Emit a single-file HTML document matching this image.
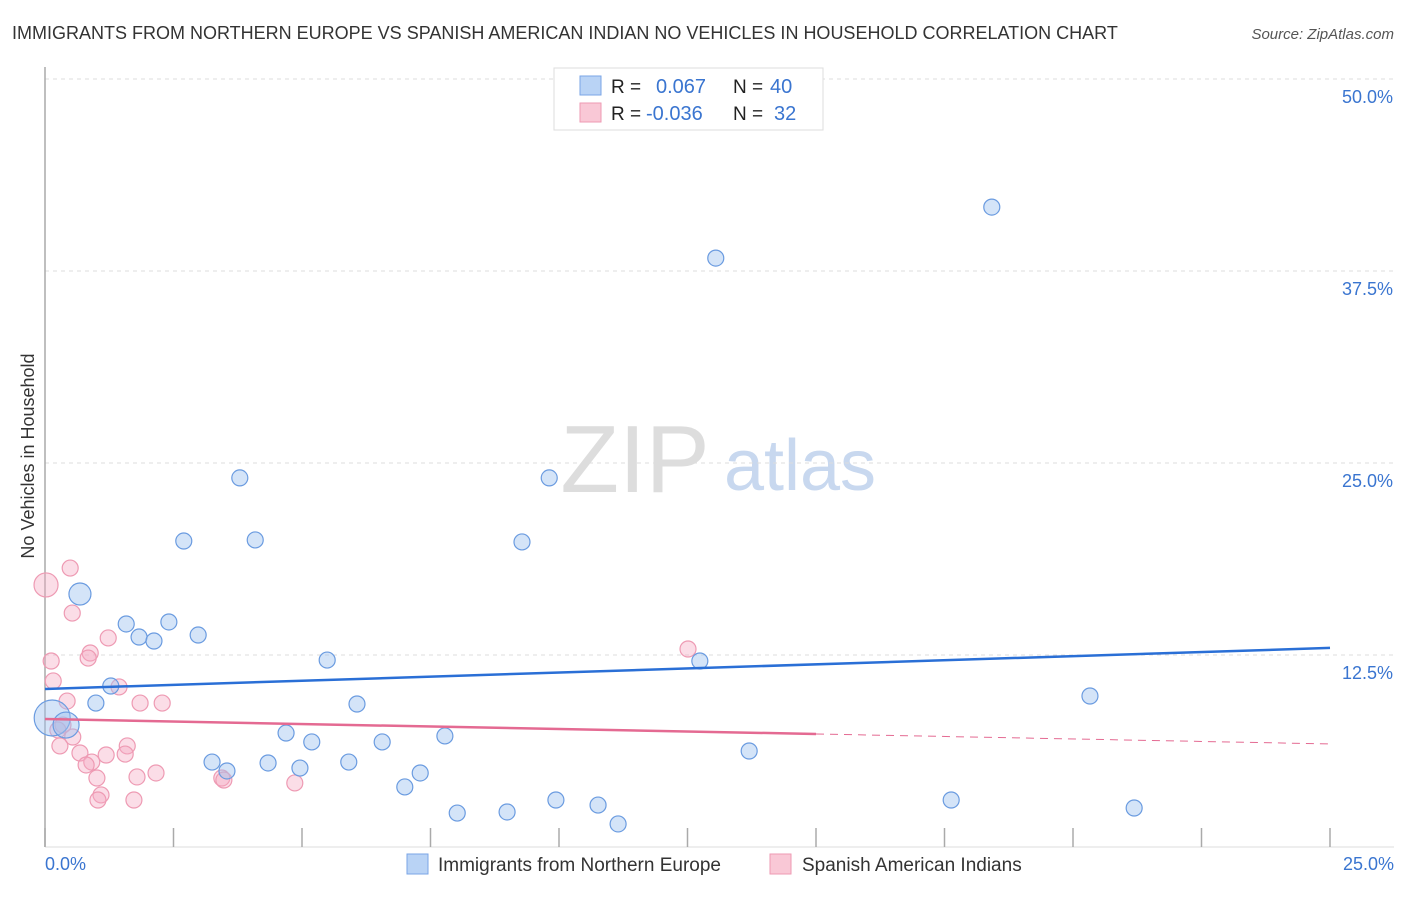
<!DOCTYPE html>
<html><head><meta charset="utf-8"><style>
body{margin:0;background:#fff;font-family:"Liberation Sans",sans-serif;}
svg text{font-family:"Liberation Sans",sans-serif;}
</style></head><body>
<svg width="1406" height="892">
<text x="12" y="39" font-size="18" fill="#333">IMMIGRANTS FROM NORTHERN EUROPE VS SPANISH AMERICAN INDIAN NO VEHICLES IN HOUSEHOLD CORRELATION CHART</text>
<text x="1394" y="39" font-size="15" fill="#555" font-style="italic" text-anchor="end">Source: ZipAtlas.com</text>
<text x="635" y="492" font-size="96" fill="#ddd" font-family="Liberation Serif" text-anchor="middle">ZIP</text>
<text x="800" y="490" font-size="72" fill="#c8d8ef" text-anchor="middle">atlas</text>
<g id="grid"></g><g id="axes"></g><g id="marks"></g>
<text transform="translate(34,456) rotate(-90)" font-size="18" fill="#333" text-anchor="middle">No Vehicles in Household</text>
<text x="45" y="870" font-size="18" fill="#3a75d0">0.0%</text>
<text x="1394" y="870" font-size="18" fill="#3a75d0" text-anchor="end">25.0%</text>
<g>
<rect x="554" y="68" width="269" height="62" fill="#fff" stroke="#ddd"/>
<rect x="580" y="76" width="21" height="19" fill="#b9d3f5" stroke="#7aa5e6"/>
<rect x="580" y="103" width="21" height="19" fill="#f9c8d6" stroke="#ee9ab3"/>
<text x="611" y="93" font-size="19" fill="#222">R = </text><text x="656" y="93" font-size="20" fill="#3a75d0">0.067</text>
<text x="733" y="93" font-size="19" fill="#222">N =</text><text x="770" y="93" font-size="20" fill="#3a75d0">40</text>
<text x="611" y="120" font-size="19" fill="#222">R = </text><text x="646" y="120" font-size="20" fill="#3a75d0">-0.036</text>
<text x="733" y="120" font-size="19" fill="#222">N =</text><text x="774" y="120" font-size="20" fill="#3a75d0">32</text>
</g>
<g>
<rect x="407" y="854" width="21" height="20" fill="#b9d3f5" stroke="#7aa5e6"/>
<text x="438" y="871" font-size="19" fill="#333">Immigrants from Northern Europe</text>
<rect x="770" y="854" width="21" height="20" fill="#f9c8d6" stroke="#ee9ab3"/>
<text x="802" y="871" font-size="19" fill="#333">Spanish American Indians</text>
</g>
</svg>
<script>
const blueX=[18.42,13.05,3.79,9.81,2.70,4.09,9.28,0.68,1.58,2.41,1.83,2.12,2.98,5.49,12.74,1.28,0.99,20.33,6.07,0.14,0.41,4.69,5.19,6.56,7.78,13.70,3.25,3.54,4.34,4.96,5.91,7.30,7.00,9.94,10.76,17.63,8.02,8.99,11.15,21.19];
const blueY=[41.66,38.34,24.03,24.03,19.92,19.99,19.86,16.47,14.52,14.65,13.67,13.41,13.80,12.17,12.11,10.48,9.37,9.83,9.31,8.40,7.94,7.42,6.84,6.84,7.23,6.25,5.53,4.95,5.47,5.14,5.53,4.82,3.91,3.06,2.73,3.06,2.21,2.28,1.50,2.54];
const blueR=[8,8,8,8,8,8,8,11,8,8,8,8,8,8,8,8,8,8,8,18,13,8,8,8,8,8,8,8,8,8,8,8,8,8,8,8,8,8,8,8];
const pinkX=[0.02,0.49,0.53,1.23,0.88,0.84,0.12,0.16,1.44,0.43,1.85,2.28,12.51,0.35,0.54,0.29,0.68,1.19,1.60,1.56,0.91,0.80,2.16,1.79,1.01,3.44,3.48,4.86,1.09,1.03,1.73,0.25];
const pinkY=[17.06,18.16,15.23,13.61,12.63,12.30,12.11,10.81,10.42,9.50,9.37,9.37,12.89,7.94,7.16,6.58,6.12,5.99,6.58,6.05,5.53,5.34,4.82,4.56,4.49,4.49,4.36,4.17,3.39,3.06,3.06,7.62];
const pinkR=[12,8,8,8,8,8,8,8,8,8,8,8,8,8,8,8,8,8,8,8,8,8,8,8,8,8,8,8,8,8,8,8];
const yTicks=[12.5,25,37.5,50];
const yTickLabels=["12.5%","25.0%","37.5%","50.0%"];
const xTicks=[0,2.5,5,7.5,10,12.5,15,17.5,20,22.5,25];
const blueTrend=[10.29,12.96];
const pinkTrend=[8.33,6.71];
const pinkSolidEnd=15;
const X=v=>45+v/25*1285, Y=v=>847-v/12.5*192;
const NS="http://www.w3.org/2000/svg";
function mk(tag,attrs,parent){const e=document.createElementNS(NS,tag);for(const k in attrs)e.setAttribute(k,attrs[k]);document.getElementById(parent).appendChild(e);return e;}
yTicks.forEach((t,i)=>{
const g=mk('line',{x1:45,x2:1394,y1:Y(t),y2:Y(t),stroke:'#ddd','stroke-dasharray':'4,4'},'grid');


const l=mk('text',{x:1393,y:Y(t)+24,'font-size':18,fill:'#3a75d0','text-anchor':'end'},'grid');
l.textContent=yTickLabels[i];


});
const ya=mk('line',{x1:45,x2:45,y1:67,y2:847,stroke:'#aaa','stroke-width':1.5},'axes');


const xa=mk('line',{x1:45,x2:1394,y1:847,y2:847,stroke:'#ddd'},'axes');


xTicks.forEach(t=>{const e=mk('line',{x1:X(t),x2:X(t),y1:828,y2:847,stroke:'#aaa','stroke-width':1.5},'axes');

});
pinkX.forEach((x,i)=>{const c=mk('circle',{cx:X(x),cy:Y(pinkY[i]),r:pinkR[i],fill:'rgba(246,170,195,0.4)',stroke:'#ee9ab3','stroke-width':1.2},'marks');

});
blueX.forEach((x,i)=>{const c=mk('circle',{cx:X(x),cy:Y(blueY[i]),r:blueR[i],fill:'rgba(160,195,240,0.45)',stroke:'#6a9be0','stroke-width':1.2},'marks');

});
const bt=mk('line',{x1:X(0),y1:Y(blueTrend[0]),x2:X(25),y2:Y(blueTrend[1]),stroke:'#2a6fd6','stroke-width':2.5},'marks');


const pm=pinkTrend[0]+(pinkTrend[1]-pinkTrend[0])*pinkSolidEnd/25;
const pt=mk('line',{x1:X(0),y1:Y(pinkTrend[0]),x2:X(pinkSolidEnd),y2:Y(pm),stroke:'#e46a92','stroke-width':2.5},'marks');


const pd=mk('line',{x1:X(pinkSolidEnd),y1:Y(pm),x2:X(25),y2:Y(pinkTrend[1]),stroke:'#e46a92','stroke-width':1,'stroke-dasharray':'8,6'},'marks');


</script>
</body></html>
